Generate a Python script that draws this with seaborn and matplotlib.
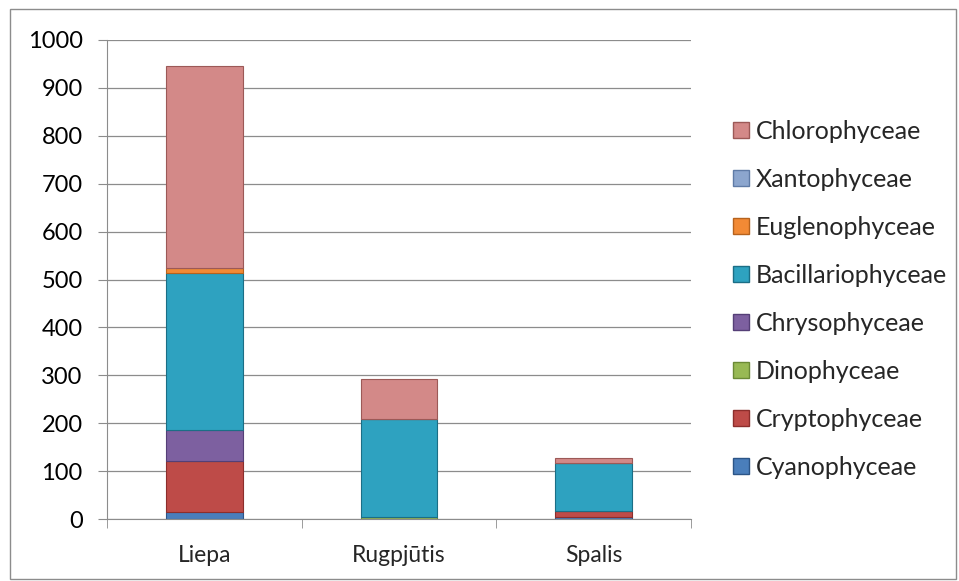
import numpy as np
import matplotlib
matplotlib.use("Agg")
import matplotlib.pyplot as plt
import seaborn as sns
from matplotlib.lines import Line2D
from matplotlib.patches import Rectangle
from matplotlib.ticker import FixedLocator

categories = ["Liepa", "Rugpjūtis", "Spalis"]
series_names = ["Cyanophyceae", "Cryptophyceae", "Dinophyceae", "Chrysophyceae",
                "Bacillariophyceae", "Euglenophyceae", "Xantophyceae", "Chlorophyceae"]
cyanophyceae = [15, 0, 5]
cryptophyceae = [107, 0, 12]
dinophyceae = [0, 5, 0]
chrysophyceae = [64, 0, 0]
bacillariophyceae = [327, 204, 100]
euglenophyceae = [10, 0, 0]
xantophyceae = [0, 0, 0]
chlorophyceae = [423, 83, 11]
yticks = [0, 100, 200, 300, 400, 500, 600, 700, 800, 900, 1000]

series = [cyanophyceae, cryptophyceae, dinophyceae, chrysophyceae,
          bacillariophyceae, euglenophyceae, xantophyceae, chlorophyceae]
colors = ["#4A7EBB", "#BE4B48", "#98B954", "#7D60A0",
          "#2EA2C0", "#F28A35", "#8CA6CE", "#D38988"]
edges = ["#2C5587", "#8C2E2C", "#6B8A36", "#553F77",
         "#1B6E86", "#B6621D", "#5F7BA6", "#9C5957"]

sns.set_style("white")
plt.rcParams["font.family"] = ["Lato", "DejaVu Sans"]

fig = plt.figure(figsize=(9.59, 5.81), dpi=100)
ax = fig.add_axes([107/959, 1-519/581, (691-107)/959, (519-40)/581])

bottom = np.zeros(len(categories))
for name, vals, c, ec in zip(series_names, series, colors, edges):
    v = np.array(vals, dtype=float)
    sns.barplot(x=categories, y=v, bottom=bottom, color=c, ax=ax,
                width=0.395, edgecolor=ec, linewidth=0.8, saturation=1)
    bottom = bottom + v

ax.set_ylim(0, 1000)
ax.set_xlim(-0.5, 2.5)
ax.set_yticks(yticks)
ax.set_yticklabels([str(t) for t in yticks])
ax.yaxis.grid(True, color="#8C8C8C", linewidth=0.9)
ax.set_axisbelow(True)
for s in ["top", "right"]:
    ax.spines[s].set_visible(False)
ax.spines["left"].set_color("#8C8C8C")
ax.spines["bottom"].set_color("#8C8C8C")
ax.tick_params(axis="y", which="both", left=True, length=6.5, color="#8C8C8C",
               labelsize=17, pad=11, labelcolor="#000000")
ax.xaxis.set_minor_locator(FixedLocator([-0.5, 0.5, 1.5, 2.5]))
ax.tick_params(axis="x", which="minor", bottom=True, length=6.5, color="#8C8C8C")
ax.tick_params(axis="x", which="major", bottom=False, length=0, labelsize=16.5, pad=19)
ax.set_ylabel("")
ax.set_xlabel("")

handles = [Line2D([0], [0], marker="s", linestyle="none", markersize=12,
                  markerfacecolor=c, markeredgecolor=ec)
           for c, ec in zip(colors, edges)]
leg = fig.legend(handles[::-1], series_names[::-1], loc="upper left",
                 bbox_to_anchor=(730/959, 1-120/581), frameon=False,
                 fontsize=18, labelspacing=1.0, handletextpad=0.15,
                 handlelength=0.9, borderaxespad=0, borderpad=0)

fig.patches.append(Rectangle((10/959, 2/581), 946/959, 570/581, transform=fig.transFigure,
                             fill=False, edgecolor="#8C8C8C", linewidth=1.0))

fig.savefig("out.png", dpi=100)
